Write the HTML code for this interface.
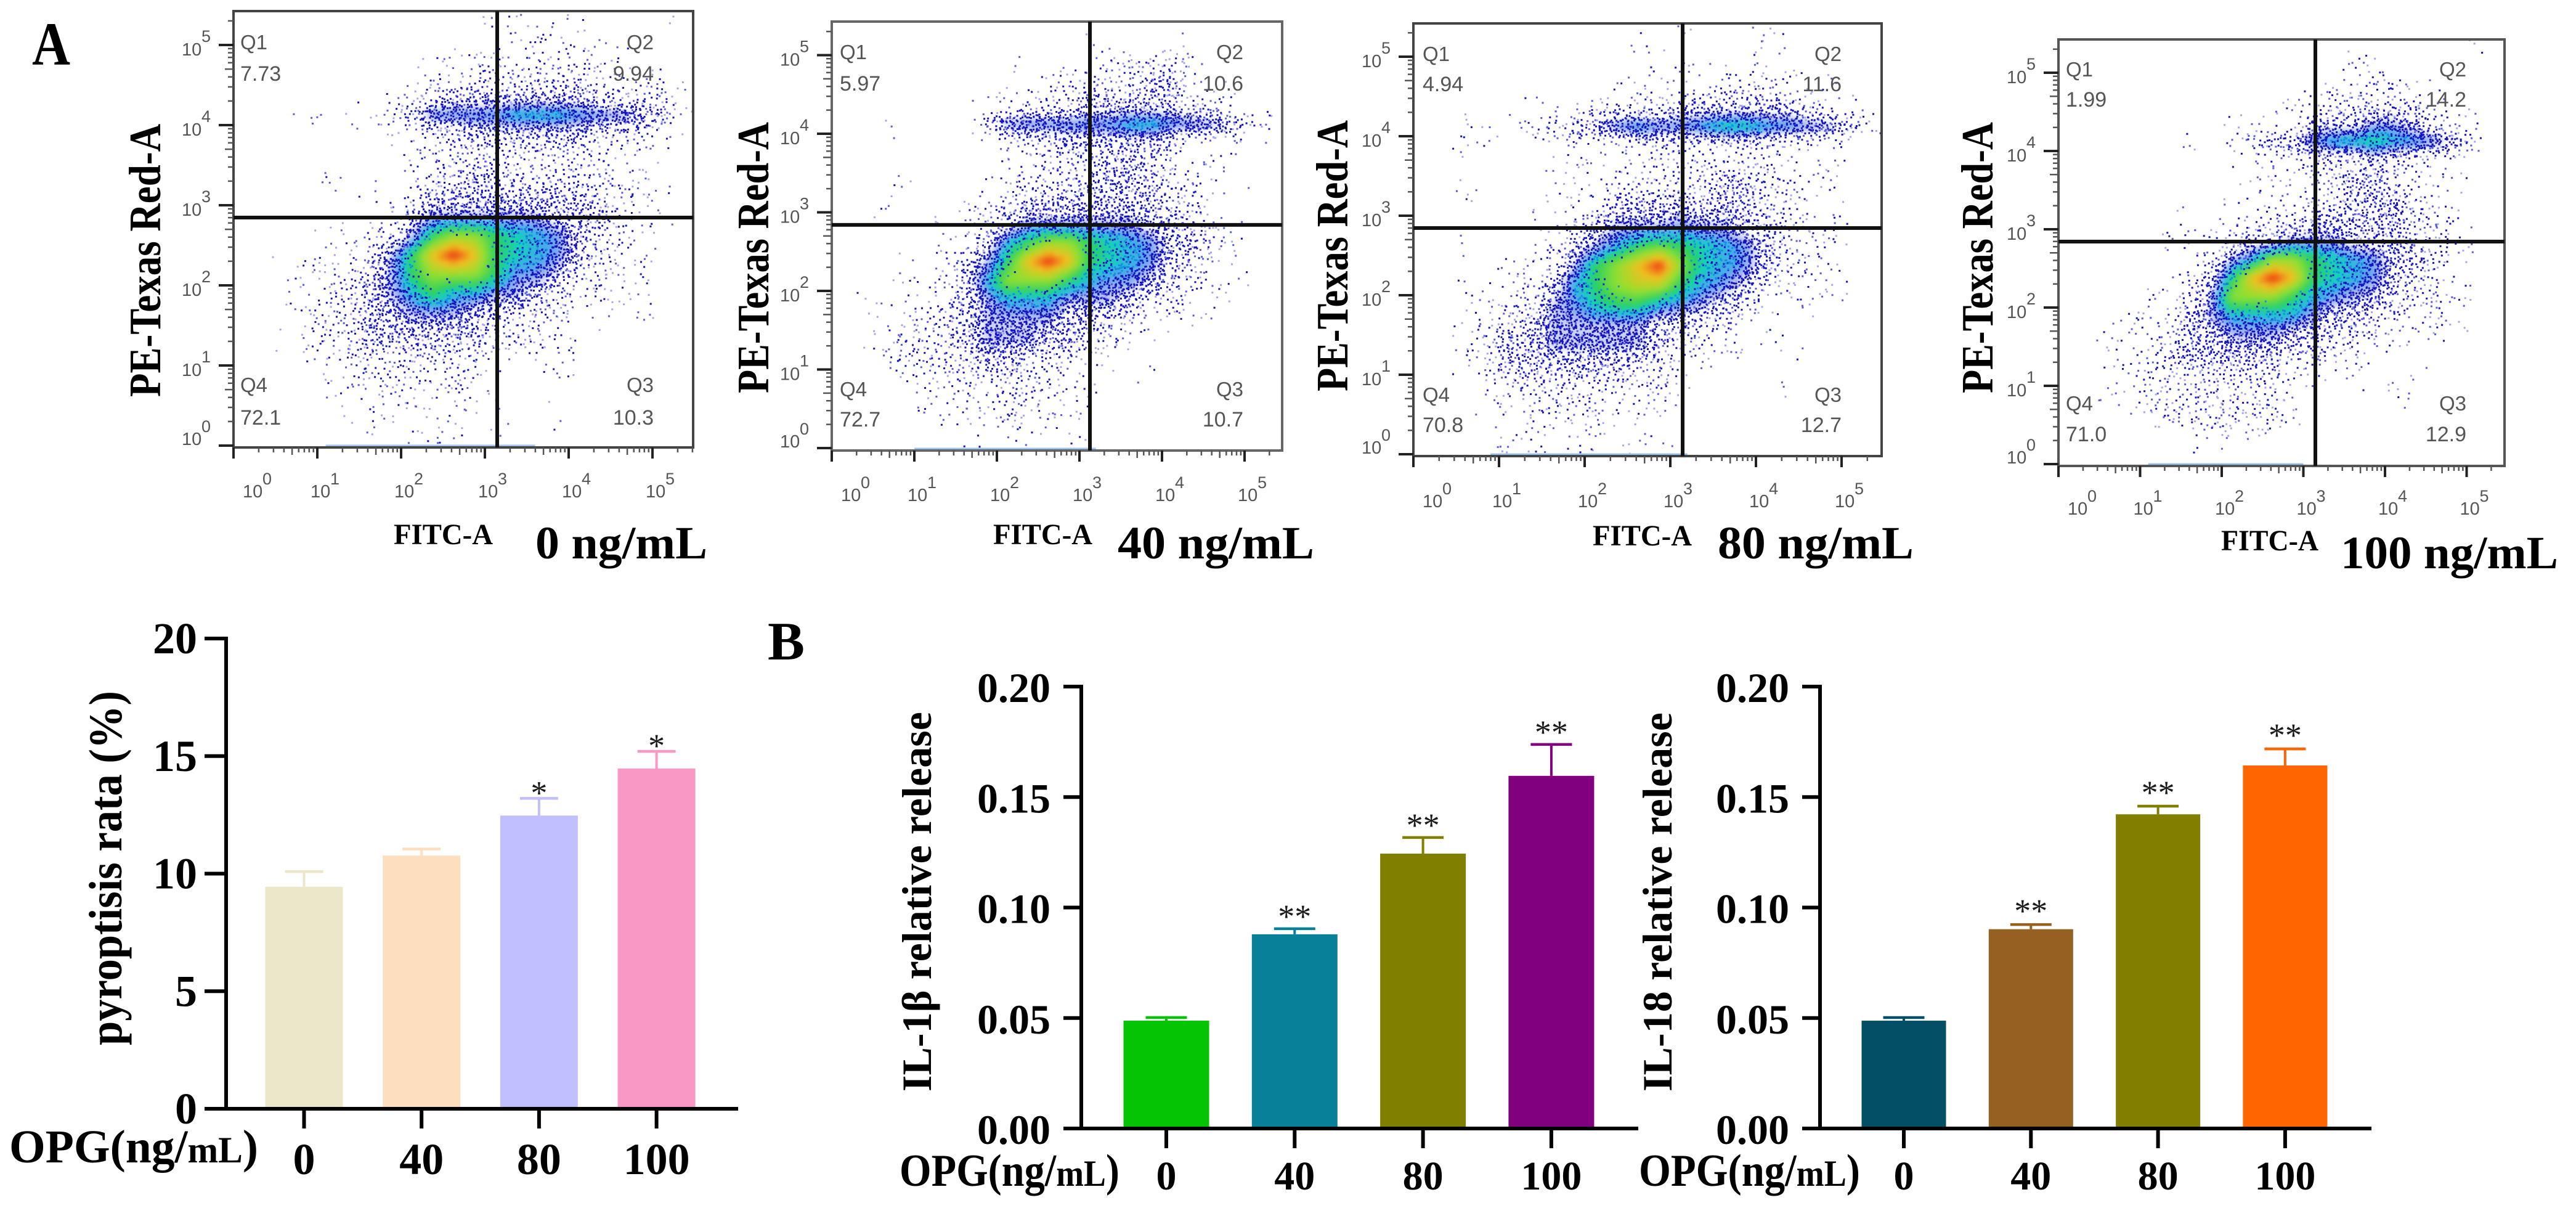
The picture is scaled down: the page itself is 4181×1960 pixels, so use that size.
<!DOCTYPE html>
<html lang="en">
<head>
<meta charset="utf-8">
<title>Flow cytometry and relative release bar charts</title>
<style>
html,body{margin:0;padding:0;background:#fff;}
svg{display:block;}
text{font-family:"Liberation Serif","Noto Serif CJK SC",serif;}
.b{font-weight:bold;fill:#000;}
.flow{font-family:"Liberation Sans",sans-serif;fill:#555;}
</style>
</head>
<body>
<svg id="figure" xmlns="http://www.w3.org/2000/svg" width="4181" height="1960" viewBox="0 0 4181 1960">
  <rect width="4181" height="1960" fill="#fff"/>
  <defs>
    <filter id="soft" x="-10%" y="-10%" width="120%" height="120%"><feGaussianBlur stdDeviation="4"/></filter>
  </defs>

  <text class="b" x="52" y="105" font-size="100" textLength="62" lengthAdjust="spacingAndGlyphs">A</text>
  <text class="b" x="1246" y="1070" font-size="88" textLength="60" lengthAdjust="spacingAndGlyphs">B</text>

  <text class="b" transform="translate(260,644) rotate(-90)" font-size="73" textLength="443" lengthAdjust="spacingAndGlyphs">PE-Texas Red-A</text>
  <text class="b" x="639" y="883" font-size="48" textLength="161" lengthAdjust="spacingAndGlyphs">FITC-A</text>
  <text class="b" x="869" y="906" font-size="75" textLength="279" lengthAdjust="spacingAndGlyphs">0 ng/mL</text>

  <text class="b" transform="translate(1247,638) rotate(-90)" font-size="73" textLength="440" lengthAdjust="spacingAndGlyphs">PE-Texas Red-A</text>
  <text class="b" x="1612" y="883" font-size="48" textLength="161" lengthAdjust="spacingAndGlyphs">FITC-A</text>
  <text class="b" x="1814" y="906" font-size="75" textLength="319" lengthAdjust="spacingAndGlyphs">40 ng/mL</text>

  <text class="b" transform="translate(2187,635) rotate(-90)" font-size="73" textLength="440" lengthAdjust="spacingAndGlyphs">PE-Texas Red-A</text>
  <text class="b" x="2585" y="885" font-size="48" textLength="161" lengthAdjust="spacingAndGlyphs">FITC-A</text>
  <text class="b" x="2788" y="906" font-size="75" textLength="318" lengthAdjust="spacingAndGlyphs">80 ng/mL</text>

  <text class="b" transform="translate(3234,638) rotate(-90)" font-size="73" textLength="440" lengthAdjust="spacingAndGlyphs">PE-Texas Red-A</text>
  <text class="b" x="3605" y="893" font-size="48" textLength="158" lengthAdjust="spacingAndGlyphs">FITC-A</text>
  <text class="b" x="3799" y="922" font-size="75" textLength="353" lengthAdjust="spacingAndGlyphs">100 ng/mL</text>

  <text class="b" transform="translate(197,1696) rotate(-90)" font-size="76" textLength="575" lengthAdjust="spacingAndGlyphs">pyroptisis rata (%)</text>
  <text class="b" transform="translate(1511,1771) rotate(-90)" font-size="68" textLength="616" lengthAdjust="spacing">IL-1β relative release</text>
  <text class="b" transform="translate(2713,1771) rotate(-90)" font-size="68" textLength="615" lengthAdjust="spacing">IL-18 relative release</text>

  <text class="b" x="15" y="1886" font-size="76" textLength="404" lengthAdjust="spacingAndGlyphs">OPG(ng/<tspan font-size="60">mL</tspan>)</text>
  <text class="b" x="1460" y="1924" font-size="74" textLength="357" lengthAdjust="spacingAndGlyphs">OPG(ng/<tspan font-size="60">mL</tspan>)</text>
  <text class="b" x="2660" y="1924" font-size="74" textLength="359" lengthAdjust="spacingAndGlyphs">OPG(ng/<tspan font-size="60">mL</tspan>)</text>

  <g id="charts"></g>
</svg>

<script>
// ---------- bar chart data ----------
const barCategories = ['0', '40', '80', '100'];
const pyroTicks = [0, 5, 10, 15, 20];
const pyroTickLabels = ['0', '5', '10', '15', '20'];
const pyroValues = [9.44, 10.77, 12.47, 14.47];
const pyroErrorTops = [10.09, 11.05, 13.2, 15.2];
const pyroStars = ['', '', '*', '*'];
const pyroColors = ['#ece7c9', '#fddfc0', '#c1bfff', '#f998c4'];

const releaseTicks = [0, 0.05, 0.10, 0.15, 0.20];
const releaseTickLabels = ['0.00', '0.05', '0.10', '0.15', '0.20'];
const il1bValues = [0.0488, 0.0879, 0.1244, 0.1596];
const il1bErrorTops = [0.0502, 0.0904, 0.1317, 0.1738];
const il1bStars = ['', '**', '**', '**'];
const il1bColors = ['#04c404', '#088099', '#807f00', '#81007f'];

const il18Values = [0.0488, 0.0902, 0.1422, 0.1643];
const il18ErrorTops = [0.0502, 0.0923, 0.1459, 0.1718];
const il18Stars = ['', '**', '**', '**'];
const il18Colors = ['#024f66', '#946120', '#827f00', '#ff6600'];

// ---------- flow cytometry data ----------
const decadeLabels = ['0', '1', '2', '3', '4', '5'];
const minorMultipliers = [2, 3, 4, 5, 6, 7, 8, 9];
const gateX = [3.147, 3.127, 3.144, 3.147];
const gateY = [2.846, 2.84, 2.845, 2.843];
const quadrant0 = ['7.73', '9.94', '10.3', '72.1'];
const quadrant40 = ['5.97', '10.6', '10.7', '72.7'];
const quadrant80 = ['4.94', '11.6', '12.7', '70.8'];
const quadrant100 = ['1.99', '14.2', '12.9', '71.0'];
const floorEvents0 = [1.1, 3.6];
const floorEvents40 = [1.0, 3.2];
const floorEvents80 = [0.9, 3.2];
const floorEvents100 = [1.1, 3.0];

// Event density per 0.25-decade bin. Rows run from the top of the y axis downwards.
const density0 = [
[0,0,0,0,0,0,0,0,0,0,0,0,1,1,0,0,1,0,0,0,1,0],
[0,0,0,0,0,0,0,0,0,0,0,0,1,1,1,1,1,1,0,0,0,0],
[0,0,0,0,0,0,0,0,0,1,1,1,1,1,2,1,2,1,1,0,0,0],
[0,0,0,0,0,0,0,0,1,1,1,2,2,2,2,2,2,2,1,1,1,0],
[0,0,0,0,0,0,0,1,1,2,3,3,3,3,3,3,3,2,2,2,2,1],
[0,0,0,1,1,1,1,2,3,4.6,4.6,4.6,4.7,5.2,5.2,5.2,4.8,4.6,4.4,3.5,3,1],
[0,0,0,0,0,0,0,1,1,2,2,3,3,3,3,3,3,2,2,2,1,0],
[0,0,0,0,0,0,0,0,1,2,2,2,2,2,2,2,2,2,1,1,0,0],
[0,0,0,0,1,0,0,0,1,2,2,3,3,2,2,2,2,2,1,1,0,0],
[0,0,0,0,0,0,1,0,1,3,3,3,3,3,3,3,3,2,2,1,1,0],
[0,0,0,0,0,0,1,1,3,4,4,4,4,4,4,3,3,3,2,1,1,0],
[0,0,0,0,1,1,2,2,4,6,7,7,6,5.5,5,4.5,3,2,2,1,0,0],
[0,0,1,0,1,1,2,4,6,8,9,8,6,5.5,5,4.5,3,2,1,1,0,0],
[0,0,0,1,1,2,3,4,6,7,7,7,6,4.5,4.5,3.5,2,2,1,1,0,0],
[0,0,1,1,2,2,3,4,5,6,5,5,4,4,3,2,2,1,1,1,0,0],
[0,0,0,1,2,2,3,3,4,4,4,3,3,2,2,2,1,1,0,1,0,0],
[0,0,1,1,2,2,3,3,3,3,3,3,2,2,2,1,1,0,0,0,0,0],
[0,0,0,1,1,2,2,2,2,2,2,2,1,1,1,1,0,0,0,0,0,0],
[0,0,0,0,1,1,2,2,2,2,2,1,1,0,0,1,0,0,0,0,0,0],
[0,0,0,0,1,1,1,1,1,1,1,1,0,0,0,0,0,0,0,0,0,0],
[0,0,0,0,0,1,1,1,1,1,1,1,1,0,0,1,0,0,0,0,0,0],
[0,0,0,0,0,0,1,0,1,1,1,0,1,0,0,0,0,0,0,0,0,0]
];
const density40 = [
[0,0,0,0,0,0,0,0,0,0,0,0,0,0,0,0,0,0,0,0,0,0],
[0,0,0,0,0,0,0,0,0,0,0,0,1,0,0,0,1,0,0,0,0,0],
[0,0,0,0,0,0,0,0,0,1,0,1,1,2,2,2,2,1,0,0,0,0],
[0,0,0,0,0,0,0,0,1,1,1,2,2,2,2,3,3,1,1,0,0,0],
[0,0,0,0,0,0,0,1,1,2,2,2,3,3,3,3,3,2,2,1,1,0],
[0,0,1,0,0,0,0,3,4.4,4.6,4.6,4.6,4.6,4.7,5.2,5.2,4.7,4.5,4.2,3,2,1],
[0,0,0,0,0,0,0,0,1,2,2,3,3,3,3,3,2,1,1,1,0,0],
[0,0,0,0,0,0,0,0,1,1,2,2,2,3,3,2,2,1,1,0,0,0],
[0,0,0,1,0,0,0,1,1,2,2,2,3,3,3,3,2,2,1,1,0,0],
[0,0,1,0,0,0,1,1,2,3,3,3,3,3,3,3,2,2,1,1,0,0],
[0,0,0,0,1,0,1,2,3,4,4,4,4,4,4,3,3,2,1,1,0,0],
[0,0,0,0,0,1,1,3,5,6,7,7,6,5.5,5,4.5,3,3,2,1,0,0],
[0,0,0,1,0,1,3,4,6,8,9,8,6,5.5,5,4.5,3,2,1,1,0,0],
[0,0,0,1,1,1,3,5,7,7,7,6,5,4.5,4.5,3.5,2,2,1,1,0,0],
[0,1,0,1,1,2,3,4,5,5,5,4,4,4,3,2,2,1,1,0,0,0],
[0,0,1,1,2,2,3,4,4,4,4,3,3,2,2,1,1,1,0,0,0,0],
[0,1,1,2,2,2,3,4,4,4,3,3,2,2,1,1,0,0,0,0,0,0],
[0,0,1,2,2,2,2,3,3,2,2,2,1,1,0,0,0,0,0,0,0,0],
[0,0,0,1,1,2,2,2,2,2,2,1,1,0,0,1,0,0,0,0,0,0],
[0,0,0,0,1,1,2,1,2,2,1,1,1,0,0,0,0,0,0,0,0,0],
[0,0,0,0,1,1,1,1,2,1,2,1,0,0,0,0,0,0,0,0,0,0],
[0,0,0,0,0,0,1,1,1,1,0,1,0,0,0,0,0,0,0,0,0,0]
];
const density80 = [
[0,0,0,0,0,0,0,0,0,0,0,0,1,0,0,0,1,0,0,0,0,0],
[0,0,0,0,0,0,0,0,0,0,1,0,1,0,0,0,1,0,0,0,0,0],
[0,0,0,0,0,0,0,0,0,0,1,1,1,1,1,1,1,1,0,0,0,0],
[0,0,0,0,0,0,0,0,0,1,1,1,1,1,2,2,2,1,1,1,0,0],
[0,0,0,0,0,1,1,1,2,2,2,2,3,3,3,3,3,3,2,1,1,0],
[0,0,1,1,1,2,2,3,3.5,4.6,5,4.6,4.6,5,5.6,5.6,5,4.9,4.5,4.2,3,1],
[0,0,1,0,0,0,1,1,1,1,2,2,2,2,2,2,2,1,1,1,0,0],
[0,0,0,0,0,0,1,1,1,1,1,2,2,2,2,2,2,1,1,1,0,0],
[0,0,1,0,0,0,1,1,1,2,2,2,2,2,3,3,2,2,1,1,0,0],
[0,0,0,0,0,0,1,1,2,3,3,3,3,3,3,3,2,2,1,1,0,0],
[0,0,0,0,0,1,1,2,3,4,4,4,4.5,4,4,3,3,2,1,1,0,0],
[0,0,1,0,0,1,1,3,4,5,6,6.5,6,5.5,5,4.5,3,2,2,1,0,0],
[0,0,0,0,1,1,2,4,6,7,8,9,7,5.5,5,4.5,3,2,1,1,0,0],
[0,0,1,1,1,2,3,5,6,7,7.5,7.5,6,5,4.5,3.5,2,1,1,1,0,0],
[0,0,1,1,2,2,4,4.5,5.5,6,6,5,4.5,4,3,2,1,1,1,1,0,0],
[0,0,1,2,2,3,4,4,4,4,4,3,3,2,2,1,1,0,0,0,0,0],
[0,0,1,2,3,3,4,4,4,4,4,3,2,2,1,1,0,1,0,0,0,0],
[0,0,1,2,3,3,3,3,3,3,2,2,1,1,0,0,0,0,0,0,0,0],
[0,0,0,1,2,2,2,2,2,2,2,2,1,0,0,0,0,1,0,0,0,0],
[0,0,0,1,1,2,2,2,2,1,1,1,0,0,0,0,0,0,0,0,0,0],
[0,0,0,0,1,1,1,1,2,1,1,1,0,0,0,0,0,0,0,0,0,0],
[0,0,0,0,1,1,1,1,1,1,1,1,0,0,0,0,0,0,0,0,0,0]
];
const density100 = [
[0,0,0,0,0,0,0,0,0,0,0,0,0,0,0,0,0,0,0,0,1,0],
[0,0,0,0,0,0,0,0,0,0,0,0,0,0,1,1,0,0,0,0,0,0],
[0,0,0,0,0,0,0,0,0,0,0,0,0,1,1,2,1,1,0,0,0,0],
[0,0,0,0,0,0,0,0,0,0,0,1,1,2,2,2,2,2,1,0,0,0],
[0,0,0,0,0,0,0,0,1,1,1,1,3,3,3,4,4,3,2,1,1,0],
[0,0,0,0,0,0,1,0,1,2,3,3.5,4.6,5.2,5.4,5.8,5.2,4.9,4.4,3.5,1,0],
[0,0,0,0,0,0,0,0,1,1,1,1,2,2,2,3,2,2,1,1,0,0],
[0,0,0,0,0,0,0,0,0,1,1,1,2,2,3,3,2,1,1,1,0,0],
[0,0,0,0,0,0,0,0,1,1,1,1,2,2,3,3,3,2,1,1,0,0],
[0,0,0,0,0,0,1,0,1,1,2,2,3,3,3,3,3,2,2,1,0,0],
[0,0,0,0,0,1,1,1,2,3,3,4,4,4,3,3,3,2,2,1,0,0],
[0,0,0,0,0,0,0,2,4,5,7,7,6,5.5,5,4.5,3,3,2,1,0,0],
[0,0,0,0,0,1,2,3,6,8,9,8,6,5.5,5,4.5,3,2,2,1,0,0],
[0,0,0,0,1,1,2,4,7,7,7,6,5,4.5,4,3.5,2,2,2,1,0,0],
[0,0,0,1,1,2,3,4,5,5,5,5,4,3,3,2,2,1,2,1,0,0],
[0,0,1,1,1,2,3,3,4,4,4,3,3,2,2,2,1,1,1,0,0,0],
[0,0,1,1,2,2,3,3,3,3,3,2,2,2,1,1,0,0,0,0,0,0],
[0,0,0,1,2,2,2,2,2,2,2,1,1,1,1,0,0,1,0,0,0,0],
[0,0,1,1,2,2,2,2,2,2,2,1,0,0,0,0,1,0,0,0,0,0],
[0,0,0,0,1,2,2,2,2,2,2,1,0,0,0,0,0,0,0,0,0,0],
[0,0,0,0,0,0,1,1,1,1,1,0,0,0,0,0,0,0,0,0,0,0],
[0,0,0,0,0,0,1,0,0,0,0,0,0,0,0,0,0,0,0,0,0,0]
];

// ---------- drawing ----------
const NS = 'http://www.w3.org/2000/svg';
const root = document.getElementById('charts');
function make(parent, tag, attrs, content) {
  const el = document.createElementNS(NS, tag);
  for (const k in attrs) el.setAttribute(k, attrs[k]);
  if (content !== undefined) el.textContent = content;
  parent.appendChild(el);
  return el;
}

function jitter(n) {
  const s = Math.sin(n * 127.1 + 311.7) * 43758.5453;
  return s - Math.floor(s);
}

// density level -> colour / opacity of the smooth heat layer
function heatStyle(L) {
  const stops = [
    [3.6, 32, 64, 224, 0], [4.2, 32, 64, 224, 0.3], [4.8, 24, 150, 232, 0.75],
    [5.4, 24, 208, 190, 1], [6, 40, 208, 96, 1], [7, 144, 224, 48, 1],
    [8, 240, 192, 32, 1], [8.7, 240, 80, 24, 1], [9, 232, 48, 24, 1]
  ];
  for (let i = 1; i < stops.length; i++) {
    if (L <= stops[i][0]) {
      const a = stops[i - 1], b = stops[i];
      const t = (L - a[0]) / (b[0] - a[0]);
      const mix = k => a[k] + (b[k] - a[k]) * t;
      return {fill: 'rgb(' + Math.round(mix(1)) + ',' + Math.round(mix(2)) + ',' + Math.round(mix(3)) + ')', opacity: mix(4).toFixed(2)};
    }
  }
  return {fill: 'rgb(232,48,24)', opacity: '1'};
}

// expected event dots per full bin at a density level
function dotsPerBin(L) {
  const table = [0, 4, 13, 34, 70, 44, 10, 0, 0, 0];
  const i = Math.min(8, Math.floor(L));
  return table[i] + (table[i + 1] - table[i]) * (L - i);
}

function sampleLevel(grid, rowF, colF) {
  const rf = Math.max(0, Math.min(grid.length - 1.001, rowF - 0.5));
  const cf = Math.max(0, Math.min(grid[0].length - 1.001, colF - 0.5));
  const r = Math.floor(rf), c = Math.floor(cf);
  const tr = rf - r, tc = cf - c;
  return (grid[r][c] * (1 - tc) + grid[r][c + 1] * tc) * (1 - tr) +
         (grid[r + 1][c] * (1 - tc) + grid[r + 1][c + 1] * tc) * tr;
}

function drawFlow(cfg, index) {
  const xs = v => cfg.left + v * cfg.dx;
  const ys = v => cfg.y0 - v * cfg.dy;
  const g = make(root, 'g', {});
  
  

  const clipId = 'clip' + index;
  const cp = make(g, 'clipPath', {id: clipId});
  make(cp, 'rect', {x: cfg.left, y: cfg.top, width: cfg.right - cfg.left, height: cfg.bottom - cfg.top});

  const plot = make(g, 'g', {'clip-path': 'url(#' + clipId + ')'});
  
  

  const heat = make(plot, 'g', {filter: 'url(#soft)'});
  const binSize = 0.25;
  const topLog = 5.5;
  const sub = 4;
  const rows = cfg.density.length;
  const cols = cfg.density[0].length;
  let pale = '', mid = '', dark = '', cyan = '';
  for (let r = 0; r < rows * sub; r++) {
    for (let c = 0; c < cols * sub; c++) {
      const colF = (c + 0.5) / sub;
      const rowF = (r + 0.5) / sub;
      const L = sampleLevel(cfg.density, rowF, colF);
      if (L > 3.6) {
        const st = heatStyle(L);
        const cell = make(heat, 'rect', {
          x: xs(c / sub * binSize).toFixed(1), y: ys(topLog - r / sub * binSize).toFixed(1),
          width: (binSize * cfg.dx / sub + 1).toFixed(1), height: (binSize * cfg.dy / sub + 1).toFixed(1),
          fill: st.fill, 'fill-opacity': st.opacity
        });
        
        
      }
      if (L < 0.2) continue;
      const expected = dotsPerBin(L) / (sub * sub);
      const seed = r * 977 + c * 131 + index * 53;
      const n = Math.floor(expected) + (jitter(seed) < expected - Math.floor(expected) ? 1 : 0);
      for (let i = 0; i < n; i++) {
        const u = jitter(seed + i * 3.1 + 0.17);
        const v = jitter(seed + i * 5.3 + 0.41);
        const w = jitter(seed + i * 7.7 + 0.73);
        const px = xs((c + u) / sub * binSize).toFixed(1);
        const py = ys(topLog - (r + v) / sub * binSize).toFixed(1);
        const d = 'M' + px + ' ' + py + 'h3v3h-3z';
        if (L > 4.8 && w < 0.5) cyan += d;
        else if (w < 0.15 + L * 0.16) dark += d;
        else if (w < 0.55 + L * 0.1) mid += d;
        else pale += d;
      }
    }
  }
  [['pale-events', pale, '#a6a6ee'], ['mid-events', mid, '#5a5ae2'], ['dark-events', dark, '#1414c0'], ['dense-events', cyan, '#1090e0']].forEach(item => {
    const dots = make(plot, 'path', {d: item[1], fill: item[2]});
    
    
  });

  const floor = make(g, 'line', {
    x1: xs(cfg.floor[0]), x2: xs(cfg.floor[1]),
    y1: cfg.bottom - 3, y2: cfg.bottom - 3,
    stroke: '#9cc4ee', 'stroke-width': 3
  });
  
  

  const frame = make(g, 'rect', {
    x: cfg.left, y: cfg.top, width: cfg.right - cfg.left, height: cfg.bottom - cfg.top,
    fill: 'none', stroke: cfg.frameColor, 'stroke-width': 4
  });
  
  

  const gv = make(g, 'line', {x1: xs(gateX[index]), x2: xs(gateX[index]), y1: cfg.top, y2: cfg.bottom, stroke: '#111', 'stroke-width': 6});
  
  
  const gh = make(g, 'line', {x1: cfg.left, x2: cfg.right, y1: ys(gateY[index]), y2: ys(gateY[index]), stroke: '#111', 'stroke-width': 6});
  
  

  let tickPath = '';
  let minorPath = '';
  decadeLabels.forEach((lab, i) => {
    tickPath += 'M' + (cfg.left - 24) + ' ' + ys(i) + 'H' + cfg.left;
    tickPath += 'M' + xs(i) + ' ' + cfg.bottom + 'v18';
    minorMultipliers.forEach(m => {
      const f = i + Math.log10(m);
      if (ys(f) > cfg.top) minorPath += 'M' + (cfg.left - (m === 5 ? 14 : 9)) + ' ' + ys(f).toFixed(1) + 'H' + cfg.left;
      if (xs(f) < cfg.right) minorPath += 'M' + xs(f).toFixed(1) + ' ' + cfg.bottom + 'v' + (m === 5 ? 12 : 8);
    });

    const yTop = i === 0 ? -1 : 17;
    const yl = make(g, 'text', {class: 'flow', x: cfg.left - 84, y: ys(i) + yTop, 'font-size': 29}, '10');
    
    
    const ys2 = make(g, 'text', {class: 'flow', x: cfg.left - 52, y: ys(i) + (i === 0 ? -22 : -5), 'font-size': 27}, lab);
    
    

    const xOff = i === 0 ? 15 : -11;
    const xl = make(g, 'text', {class: 'flow', x: xs(i) + xOff, y: cfg.tickBase, 'font-size': 29}, '10');
    
    
    const xs2 = make(g, 'text', {class: 'flow', x: xs(i) + xOff + 32, y: cfg.tickBase - 21, 'font-size': 27}, lab);
    
    
  });
  const majors = make(g, 'path', {d: tickPath, stroke: '#222', 'stroke-width': 4, fill: 'none'});
  
  
  const minors = make(g, 'path', {d: minorPath, stroke: '#555', 'stroke-width': 2.5, fill: 'none'});
  
  

  const qNames = ['Q1', 'Q2', 'Q3', 'Q4'];
  const qRows = [[cfg.qTop, cfg.vTop], [cfg.qTop, cfg.vTop], [cfg.qBot, cfg.vBot], [cfg.qBot, cfg.vBot]];
  qNames.forEach((nm, i) => {
    const right = i === 1 || i === 2;
    const anchor = right ? 'end' : 'start';
    const xPos = right ? cfg.qRight : cfg.qLeft;
    const qn = make(g, 'text', {class: 'flow', x: xPos, y: qRows[i][0], 'font-size': 33, 'text-anchor': anchor}, nm);
    
    
    const qv = make(g, 'text', {class: 'flow', x: xPos, y: qRows[i][1], 'font-size': 34, 'text-anchor': anchor}, cfg.quadrant[i]);
    
    
  });
}

function drawBars(cfg) {
  const ys = v => cfg.y0 - v * cfg.scale;
  const xc = i => cfg.start + i * cfg.step;
  const g = make(root, 'g', {});
  
  

  cfg.values.forEach((v, i) => {
    const x = xc(i);
    const stem = make(g, 'line', {x1: x, x2: x, y1: ys(v), y2: ys(cfg.errors[i]), stroke: cfg.colors[i], 'stroke-width': 4});
    
    
    const cap = make(g, 'line', {x1: x - cfg.cap / 2, x2: x + cfg.cap / 2, y1: ys(cfg.errors[i]), y2: ys(cfg.errors[i]), stroke: cfg.colors[i], 'stroke-width': 4.5});
    
    
    const bar = make(g, 'rect', {x: x - cfg.barW / 2, y: ys(v), width: cfg.barW, height: ys(0) - ys(v), fill: cfg.colors[i]});
    
    
    if (cfg.stars[i]) {
      const star = make(g, 'text', {x: x, y: ys(cfg.errors[i]) - cfg.starGap + 25, 'font-size': 54, 'text-anchor': 'middle', fill: '#1a1a1a'}, cfg.stars[i]);
      
      
    }
    const tick = make(g, 'line', {x1: x, x2: x, y1: ys(0), y2: ys(0) + 32, stroke: '#000', 'stroke-width': 6});
    
    
    const lab = make(g, 'text', {class: 'b', x: x, y: cfg.catBase, 'font-size': cfg.catSize, 'text-anchor': 'middle'}, barCategories[i]);
    
    
  });

  cfg.ticks.forEach((t, i) => {
    const tick = make(g, 'line', {x1: cfg.axisX - cfg.tickLen, x2: cfg.axisX, y1: ys(t), y2: ys(t), stroke: '#000', 'stroke-width': 6});
    
    
    const attrs = {class: 'b', x: cfg.labelRight, y: ys(t) + cfg.labelDrop, 'font-size': cfg.tickSize, 'text-anchor': 'end'};
    const lab = make(g, 'text', attrs, cfg.tickLabels[i]);
    
    
  });

  const yAxis = make(g, 'line', {x1: cfg.axisX, x2: cfg.axisX, y1: ys(cfg.ticks[cfg.ticks.length - 1]) - 3, y2: ys(0) + 3, stroke: '#000', 'stroke-width': 6});
  
  
  const xAxis = make(g, 'line', {x1: cfg.axisX - cfg.tickLen, x2: cfg.axisEnd, y1: ys(0), y2: ys(0), stroke: '#000', 'stroke-width': 6});
  
  
}

const flowPanels = [
  {name: '0', density: density0, quadrant: quadrant0, floor: floorEvents0, left: 379, right: 1125, top: 18, bottom: 726, dx: 136, y0: 723, dy: 130, frameColor: '#444', tickBase: 807, qLeft: 390, qRight: 1061, qTop: 80, vTop: 131, qBot: 636, vBot: 689},
  {name: '40', density: density40, quadrant: quadrant40, floor: floorEvents40, left: 1350, right: 2081, top: 35, bottom: 731, dx: 134, y0: 727, dy: 127.5, frameColor: '#666', tickBase: 813, qLeft: 1363, qRight: 2018, qTop: 96, vTop: 147, qBot: 643, vBot: 692},
  {name: '80', density: density80, quadrant: quadrant80, floor: floorEvents80, left: 2294, right: 3054, top: 38, bottom: 740, dx: 139, y0: 737, dy: 129, frameColor: '#444', tickBase: 823, qLeft: 2309, qRight: 2989, qTop: 99, vTop: 148, qBot: 652, vBot: 701},
  {name: '100', density: density100, quadrant: quadrant100, floor: floorEvents100, left: 3341, right: 4065, top: 64, bottom: 756, dx: 132.5, y0: 753, dy: 127, frameColor: '#555', tickBase: 835, qLeft: 3353, qRight: 4003, qTop: 124, vTop: 173, qBot: 666, vBot: 716}
];
flowPanels.forEach(drawFlow);

drawBars({name: 'pyroptosis', values: pyroValues, errors: pyroErrorTops, stars: pyroStars, colors: pyroColors, ticks: pyroTicks, tickLabels: pyroTickLabels,
  y0: 1799, scale: 38.15, start: 493.5, step: 190.7, barW: 126, cap: 62, axisX: 367, axisEnd: 1198, tickLen: 35, labelRight: 320, labelDrop: 24, tickSize: 72, catBase: 1905, catSize: 72, starGap: 16});
drawBars({name: 'il1b', values: il1bValues, errors: il1bErrorTops, stars: il1bStars, colors: il1bColors, ticks: releaseTicks, tickLabels: releaseTickLabels,
  y0: 1831, scale: 3585, start: 1893, step: 208.3, barW: 139, cap: 67, axisX: 1755, axisEnd: 2659, tickLen: 29, labelRight: 1705, labelDrop: 25, tickSize: 68, catBase: 1930, catSize: 66, starGap: 27});
drawBars({name: 'il18', values: il18Values, errors: il18ErrorTops, stars: il18Stars, colors: il18Colors, ticks: releaseTicks, tickLabels: releaseTickLabels,
  y0: 1831, scale: 3585, start: 3090, step: 206.3, barW: 137, cap: 67, axisX: 2954, axisEnd: 3849, tickLen: 29, labelRight: 2904, labelDrop: 25, tickSize: 68, catBase: 1930, catSize: 66, starGap: 29});
</script>
</body>
</html>
